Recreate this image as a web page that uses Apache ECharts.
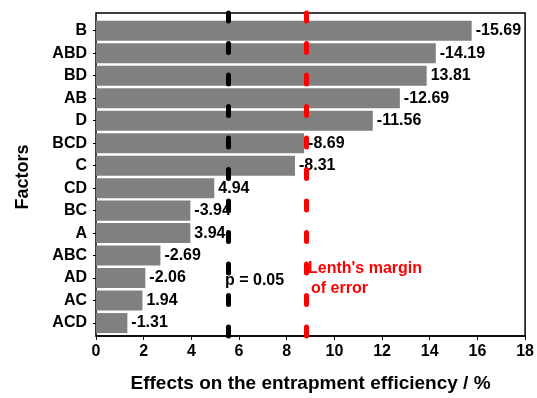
<!DOCTYPE html>
<html>
<head>
<meta charset="utf-8">
<script src="https://cdn.jsdelivr.net/npm/echarts@6/dist/echarts.min.js"></script>
<style>
  html, body { margin: 0; padding: 0; background: #fff; }
  #chart { width: 537px; height: 398px; }
</style>
</head>
<body>
<div id="chart"></div>
<script>
// 因子与效应值（带符号）
var factors = ['B', 'ABD', 'BD', 'AB', 'D', 'BCD', 'C', 'CD', 'BC', 'A', 'ABC', 'AD', 'AC', 'ACD'];
var effects = [-15.69, -14.19, 13.81, -12.69, -11.56, -8.69, -8.31, 4.94, -3.94, 3.94, -2.69, -2.06, 1.94, -1.31];
var xTicks = [0, 2, 4, 6, 8, 10, 12, 14, 16, 18];
var pLine = 5.54;      // p = 0.05
var lenthLine = 8.80;  // Lenth's margin of error

var font = 'Liberation Sans, Arial, sans-serif';
var myChart = echarts.init(document.getElementById('chart'));

var option = {
    animation: false,
    grid: [
        // 外框 + x轴
        { left: 96, right: 10, top: 13, bottom: 56, show: true, borderColor: '#000', borderWidth: 1.5 },
        // 条形区域（上下留白）
        { left: 96, right: 10, top: 19.5, bottom: 63.7 }
    ],
    xAxis: [{
        type: 'value',
        gridIndex: 0,
        min: xTicks[0],
        max: xTicks[xTicks.length - 1],
        interval: 2,
        name: 'Effects on the entrapment efficiency / %',
        nameLocation: 'middle',
        nameGap: 38,
        nameTextStyle: { fontFamily: font, fontWeight: 'bold', fontSize: 19, color: '#000' },
        axisLine: { show: true, lineStyle: { color: '#000', width: 1.5 } },
        axisTick: { show: true, length: 4, lineStyle: { color: '#000' } },
        axisLabel: { fontFamily: font, fontWeight: 'bold', fontSize: 16, color: '#000', margin: 8 },
        splitLine: { show: false }
    }, {
        type: 'value',
        gridIndex: 1,
        min: xTicks[0],
        max: xTicks[xTicks.length - 1],
        show: false
    }],
    yAxis: [{
        type: 'value',
        gridIndex: 0,
        min: 0,
        max: 1,
        show: false
    }, {
        type: 'category',
        gridIndex: 1,
        data: factors,
        inverse: true,
        name: 'Factors',
        nameLocation: 'middle',
        nameGap: 64,
        nameTextStyle: { fontFamily: font, fontWeight: 'bold', fontSize: 18, color: '#000' },
        axisLine: { show: false },
        axisTick: { show: true, length: 3, alignWithLabel: true, lineStyle: { color: '#000' } },
        axisLabel: { fontFamily: font, fontWeight: 'bold', fontSize: 16, color: '#000', margin: 9 }
    }],
    series: [{
        name: 'effects',
        type: 'bar',
        xAxisIndex: 1,
        yAxisIndex: 1,
        barCategoryGap: '11%',
        z: 2,
        data: effects.map(function (v) { return Math.abs(v); }),
        itemStyle: { color: '#808080' },
        label: {
            show: true,
            position: 'right',
            distance: 4,
            fontFamily: font,
            fontWeight: 'bold',
            fontSize: 16,
            color: '#000',
            formatter: function (p) { return effects[p.dataIndex].toFixed(2); }
        }
    }, {
        name: 'limits',
        type: 'line',
        xAxisIndex: 0,
        yAxisIndex: 0,
        data: [],
        z: 10,
        markLine: {
            silent: true,
            symbol: 'none',
            label: { show: false },
            data: [
                { xAxis: pLine, lineStyle: { color: '#000', width: 5, type: [9, 22.5], cap: 'round' } },
                { xAxis: lenthLine, lineStyle: { color: '#ff0000', width: 5, type: [9, 22.5], cap: 'round' } }
            ]
        }
    }],
    graphic: [
        { type: 'text', left: 225, top: 273, z: 20,
          style: { text: 'p = 0.05', fontFamily: font, fontWeight: 'bold', fontSize: 16, fill: '#000' } },
        { type: 'text', left: 308, top: 261, z: 20,
          style: { text: "Lenth's margin", fontFamily: font, fontWeight: 'bold', fontSize: 16, fill: '#ff0000' } },
        { type: 'text', left: 311, top: 281, z: 20,
          style: { text: 'of error', fontFamily: font, fontWeight: 'bold', fontSize: 16, fill: '#ff0000' } }
    ]
};

myChart.setOption(option);
</script>
</body>
</html>
